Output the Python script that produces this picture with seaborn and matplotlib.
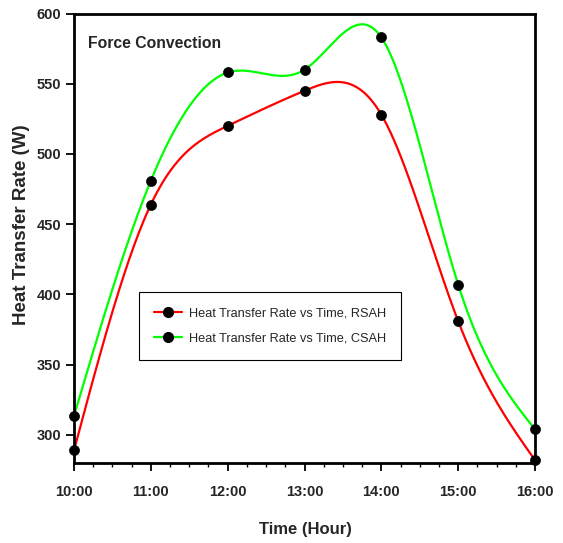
import numpy as np
import pandas as pd
import matplotlib
matplotlib.use("Agg")
import matplotlib.pyplot as plt
from matplotlib.lines import Line2D
from matplotlib.ticker import MultipleLocator
import seaborn as sns

# ---- data ----
hours = [10, 11, 12, 13, 14, 15, 16]
hour_labels = ["10:00", "11:00", "12:00", "13:00", "14:00", "15:00", "16:00"]
rsah = [289, 464, 520, 545, 528, 381, 282]
csah = [313.5, 481, 558, 560, 583, 407, 304]
y_ticks = [300, 350, 400, 450, 500, 550, 600]
series_names = ["Heat Transfer Rate vs Time, RSAH", "Heat Transfer Rate vs Time, CSAH"]
series_colors = ["#ff0000", "#00ff00"]


def natural_spline(x, y, n_out=400):
    x = np.asarray(x, float)
    y = np.asarray(y, float)
    n = len(x)
    h = np.diff(x)
    A = np.zeros((n, n))
    b = np.zeros(n)
    A[0, 0] = 1
    A[-1, -1] = 1
    for i in range(1, n - 1):
        A[i, i - 1] = h[i - 1]
        A[i, i] = 2 * (h[i - 1] + h[i])
        A[i, i + 1] = h[i]
        b[i] = 3 * ((y[i + 1] - y[i]) / h[i] - (y[i] - y[i - 1]) / h[i - 1])
    c = np.linalg.solve(A, b)
    xs = np.linspace(x[0], x[-1], n_out)
    ys = np.empty_like(xs)
    for k, xv in enumerate(xs):
        i = min(np.searchsorted(x, xv, side="right") - 1, n - 2)
        dx = xv - x[i]
        bi = (y[i + 1] - y[i]) / h[i] - h[i] * (2 * c[i] + c[i + 1]) / 3
        di = (c[i + 1] - c[i]) / (3 * h[i])
        ys[k] = y[i] + bi * dx + c[i] * dx ** 2 + di * dx ** 3
    return xs, ys


sns.set_style("white")
plt.rcParams["font.family"] = ["Liberation Sans", "DejaVu Sans"]

fig = plt.figure(figsize=(5.63, 5.43), dpi=100)
ax = fig.add_axes([74 / 563, 1 - 463 / 543, (535 - 74) / 563, (463 - 13.5) / 543])

handles = []
for vals, name, col in zip([rsah, csah], series_names, series_colors):
    xs, ys = natural_spline(hours, vals)
    curve = pd.DataFrame({"t": xs, "v": ys})
    sns.lineplot(data=curve, x="t", y="v", ax=ax, color=col, linewidth=1.6,
                 legend=False, estimator=None, sort=False)
    pts = pd.DataFrame({"t": hours, "v": vals})
    sns.scatterplot(data=pts, x="t", y="v", ax=ax, color="black", s=52,
                    edgecolor="black", linewidth=0.5, zorder=5, legend=False,
                    clip_on=False)
    handles.append(Line2D([], [], color=col, linewidth=1.6, marker="o",
                          markersize=7, markerfacecolor="black",
                          markeredgecolor="black", label=name))

ax.set_xlim(10, 16)
ax.set_ylim(280, 600)
ax.set_xticks(hours)
ax.set_xticklabels(hour_labels)
ax.xaxis.set_minor_locator(MultipleLocator(0.25))
ax.set_yticks(y_ticks)
ax.set_yticklabels([str(v) for v in y_ticks])

for lab in ax.get_xticklabels():
    lab.set_fontweight("bold")
    lab.set_fontsize(10.5)
for lab in ax.get_yticklabels():
    lab.set_fontweight("bold")
    lab.set_fontsize(10.5)

ax.tick_params(axis="x", which="major", direction="out", length=6, width=1.3,
               pad=10, bottom=True, top=False, color="black")
ax.tick_params(axis="x", which="minor", direction="out", length=3, width=1.0,
               bottom=True, top=False, color="black")
ax.tick_params(axis="y", which="major", direction="out", length=6, width=1.3,
               pad=3, left=True, right=False, color="black")

for sp in ax.spines.values():
    sp.set_visible(True)
    sp.set_color("black")
    sp.set_linewidth(2.0)

ax.set_xlabel("Time (Hour)", fontsize=12, fontweight="bold", va="center")
ax.set_ylabel("Heat Transfer Rate (W)", fontsize=13.5, fontweight="bold", va="center")
ax.xaxis.set_label_coords(0.501, -0.149)
ax.yaxis.set_label_coords(-0.113, 0.53)

ax.text(0.030, 0.934, "Force Convection", transform=ax.transAxes,
        fontsize=11.3, fontweight="bold", ha="left", va="center")

leg = ax.legend(handles=handles, loc="upper left", bbox_to_anchor=(0.141, 0.380),
                borderaxespad=0, fontsize=9.2, frameon=True, fancybox=False,
                edgecolor="black", framealpha=1, handlelength=2.2,
                handletextpad=0.5, labelspacing=1.05, borderpad=1.2,
                numpoints=1)
leg.get_frame().set_linewidth(0.8)

fig.savefig("out.png", dpi=100)
